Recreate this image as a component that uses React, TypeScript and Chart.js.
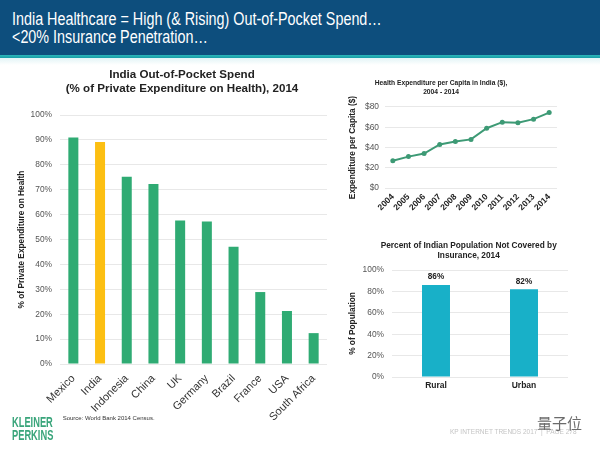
import { useEffect, useRef } from 'react';
import { Chart, registerables } from 'chart.js';

Chart.register(...registerables);

// ---------- data ----------
const countries = ['Mexico', 'India', 'Indonesia', 'China', 'UK', 'Germany', 'Brazil', 'France', 'USA', 'South Africa'];
const outOfPocketPct = [91, 89.2, 75.2, 72.3, 57.6, 57.2, 47.1, 28.9, 21.3, 12.4];
const highlightCountry = 'India';

const years = ['2004', '2005', '2006', '2007', '2008', '2009', '2010', '2011', '2012', '2013', '2014'];
const perCapitaUsd = [27, 31, 34, 43, 46, 48, 59, 65, 64.5, 68, 74.5];

const areas = ['Rural', 'Urban'];
const notCoveredPct = [86, 82];

const leftTitle = ['India Out-of-Pocket Spend', '(% of Private Expenditure on Health), 2014'];
const topRightTitle = ['Health Expenditure per Capita in India ($),', '2004 - 2014'];
const bottomRightTitle = ['Percent of Indian Population Not Covered by', 'Insurance, 2014'];

// ---------- styles ----------
const FONT = "'Liberation Sans', Arial, Helvetica, sans-serif";
const GREEN = '#2fab73';
const YELLOW = '#fcbf12';
const LINE_GREEN = '#3d9a75';
const CYAN = '#18b0c8';
const GRID = '#e8e8e8';
const TICK = '#555555';
const DARK = '#222222';

Chart.defaults.font.family = FONT;

const shiftTitle = {
  id: 'shiftTitle',
  afterLayout(chart: any, _args: any, opts: any) {
    const tb = chart.titleBlock;
    if (tb && opts && opts.dx) {
      tb.left += opts.dx;
      tb.right += opts.dx;
    }
  },
};

const barValueLabels = {
  id: 'barValueLabels',
  afterDatasetsDraw(chart: any, _args: any, opts: any) {
    if (!opts || !opts.display) return;
    const ctx = chart.ctx;
    const meta = chart.getDatasetMeta(0);
    const data = chart.data.datasets[0].data;
    ctx.save();
    ctx.font = `bold ${opts.size}px ${FONT}`;
    ctx.fillStyle = opts.color;
    ctx.textAlign = 'center';
    ctx.textBaseline = 'middle';
    meta.data.forEach((el: any, i: number) => {
      ctx.fillText(`${data[i]}%`, el.x, el.y - opts.offset);
    });
    ctx.restore();
  },
};

function useChart(config: any) {
  const ref = useRef<HTMLCanvasElement | null>(null);
  useEffect(() => {
    if (!ref.current) return;
    const chart = new Chart(ref.current, config);
    return () => chart.destroy();
  }, []);
  return ref;
}

function LeftChart() {
  const ref = useChart({
    type: 'bar',
    data: {
      labels: countries,
      datasets: [
        {
          data: outOfPocketPct,
          backgroundColor: countries.map((c) => (c === highlightCountry ? YELLOW : GREEN)),
          barPercentage: 0.375,
          categoryPercentage: 1,
        },
      ],
    },
    options: {
      animation: false,
      responsive: false,
      maintainAspectRatio: false,
      layout: { padding: { left: 0, right: 18, top: 0, bottom: 0 } },
      plugins: {
        legend: { display: false },
        tooltip: { enabled: false },
        title: {
          display: true,
          text: leftTitle,
          color: DARK,
          font: { size: 11.6, weight: 'bold', lineHeight: 1.2 },
          padding: { top: 8, bottom: 19.2 },
        },
        shiftTitle: { dx: 18.5 },
      },
      scales: {
        x: {
          grid: { display: false, drawTicks: false },
          border: { display: false },
          ticks: { minRotation: 45, maxRotation: 45, autoSkip: false, color: '#333', font: { size: 11 }, padding: 8 },
          afterFit: (s: any) => {
            s.height = 76;
          },
        },
        y: {
          min: 0,
          max: 100,
          border: { display: false },
          grid: { color: GRID, drawTicks: false },
          ticks: { stepSize: 10, color: TICK, font: { size: 8.4 }, padding: 8, callback: (v: any) => `${v}%` },
          title: {
            display: true,
            text: '% of Private Expenditure on Health',
            color: DARK,
            font: { size: 8.3, weight: 'bold', lineHeight: 1.2 },
            padding: { top: 17, bottom: 0 },
          },
          afterFit: (s: any) => {
            s.width = 60;
          },
        },
      },
    },
    plugins: [shiftTitle],
  });
  return <canvas ref={ref} width={345} height={380} style={{ position: 'absolute', left: 0, top: 60, width: 345, height: 380 }} />;
}

function TopRightChart() {
  const ref = useChart({
    type: 'line',
    data: {
      labels: years,
      datasets: [
        {
          data: perCapitaUsd,
          borderColor: LINE_GREEN,
          backgroundColor: LINE_GREEN,
          borderWidth: 2,
          pointRadius: 2.5,
          pointBackgroundColor: LINE_GREEN,
          pointBorderWidth: 0,
          tension: 0,
        },
      ],
    },
    options: {
      animation: false,
      responsive: false,
      maintainAspectRatio: false,
      layout: { padding: { left: 0, right: 43, top: 0, bottom: 0 } },
      plugins: {
        legend: { display: false },
        tooltip: { enabled: false },
        title: {
          display: true,
          text: topRightTitle,
          color: DARK,
          font: { size: 6.7, weight: 'bold', lineHeight: 1.343 },
          padding: { top: 18.5, bottom: 10.5 },
        },
        shiftTitle: { dx: -7.5 },
      },
      scales: {
        x: {
          offset: true,
          grid: { display: false, drawTicks: false },
          border: { display: false },
          ticks: { minRotation: 45, maxRotation: 45, autoSkip: false, color: DARK, font: { size: 8.5, weight: 'bold' }, padding: 4 },
          afterFit: (s: any) => {
            s.height = 32;
          },
        },
        y: {
          min: 0,
          max: 80,
          border: { display: false },
          grid: { color: GRID, drawTicks: false },
          ticks: { stepSize: 20, color: TICK, font: { size: 8.4 }, padding: 6, callback: (v: any) => `$${v}` },
          title: {
            display: true,
            text: 'Expenditure per Capita ($)',
            color: DARK,
            font: { size: 8.3, weight: 'bold', lineHeight: 1.2 },
            padding: { top: 8.2, bottom: 0 },
          },
          afterFit: (s: any) => {
            s.width = 45;
          },
        },
      },
    },
    plugins: [shiftTitle],
  });
  return <canvas ref={ref} width={260} height={160} style={{ position: 'absolute', left: 340, top: 60, width: 260, height: 160 }} />;
}

function BottomRightChart() {
  const ref = useChart({
    type: 'bar',
    data: {
      labels: areas,
      datasets: [
        {
          data: notCoveredPct,
          backgroundColor: CYAN,
          barPercentage: 0.318,
          categoryPercentage: 1,
        },
      ],
    },
    options: {
      animation: false,
      responsive: false,
      maintainAspectRatio: false,
      layout: { padding: { left: 0, right: 32, top: 0, bottom: 0 } },
      plugins: {
        legend: { display: false },
        tooltip: { enabled: false },
        title: {
          display: true,
          text: bottomRightTitle,
          color: DARK,
          font: { size: 8.3, weight: 'bold', lineHeight: 1.205 },
          padding: { top: 16, bottom: 9 },
        },
        shiftTitle: { dx: 14.7 },
        barValueLabels: { display: true, size: 8.2, color: DARK, offset: 8 },
      },
      scales: {
        x: {
          grid: { display: false, drawTicks: false },
          border: { display: false },
          ticks: { color: DARK, font: { size: 8.5, weight: 'bold' }, padding: 4 },
          afterFit: (s: any) => {
            s.height = 23;
          },
        },
        y: {
          min: 0,
          max: 100,
          border: { display: false },
          grid: { color: GRID, drawTicks: false },
          ticks: { stepSize: 20, color: TICK, font: { size: 8.4 }, padding: 8, callback: (v: any) => `${v}%` },
          title: {
            display: true,
            text: '% of Population',
            color: DARK,
            font: { size: 8.3, weight: 'bold', lineHeight: 1.2 },
            padding: { top: 8.2, bottom: 0 },
          },
          afterFit: (s: any) => {
            s.width = 52;
          },
        },
      },
    },
    plugins: [shiftTitle, barValueLabels],
  });
  return <canvas ref={ref} width={260} height={175} style={{ position: 'absolute', left: 340, top: 225, width: 260, height: 175 }} />;
}

export default function App() {
  const headLine = {
    position: 'absolute' as const,
    left: 12,
    whiteSpace: 'nowrap' as const,
    color: '#ffffff',
    fontSize: 17.5,
    lineHeight: '18.7px',
    transform: 'scaleX(0.82)',
    transformOrigin: '0 0',
  };
  const logoLine = {
    position: 'absolute' as const,
    left: 11.5,
    whiteSpace: 'nowrap' as const,
    color: '#3aa57b',
    fontSize: 15,
    fontWeight: 'bold' as const,
    lineHeight: '13.3px',
    transform: 'scaleX(0.62)',
    transformOrigin: '0 0',
  };
  return (
    <div
      style={{
        position: 'absolute',
        left: 0,
        top: 0,
        width: 600,
        height: 450,
        overflow: 'hidden',
        background: '#ffffff',
        fontFamily: FONT,
      }}
    >
      <div style={{ position: 'absolute', left: 0, top: 0, width: 600, height: 55, background: '#0d4e7d' }} />
      <div style={{ position: 'absolute', left: 0, top: 55, width: 600, height: 3, background: 'linear-gradient(#2bb7b9, #179ca6)' }} />
      <div style={{ position: 'absolute', left: 0, top: 58, width: 600, height: 7, background: 'linear-gradient(#e2f4f6, #ffffff)' }} />
      <div style={{ ...headLine, top: 9.5 }}>India Healthcare = High (&amp; Rising) Out-of-Pocket Spend…</div>
      <div style={{ ...headLine, top: 28.2 }}>&lt;20% Insurance Penetration…</div>

      <LeftChart />
      <TopRightChart />
      <BottomRightChart />

      <div style={{ ...logoLine, top: 414.9 }}>KLEINER</div>
      <div style={{ ...logoLine, top: 428.2 }}>PERKINS</div>
      <div style={{ position: 'absolute', left: 62.7, top: 414, fontSize: 6, lineHeight: '8px', color: '#333', whiteSpace: 'nowrap' }}>
        Source: World Bank 2014 Census.
      </div>
      <div style={{ position: 'absolute', left: 450, top: 428, fontSize: 6.5, lineHeight: '8px', color: '#c4c4c4', whiteSpace: 'nowrap' }}>
        KP INTERNET TRENDS 2017 &nbsp;|&nbsp; PAGE 278
      </div>
      <div
        style={{
          position: 'absolute',
          left: 537,
          top: 414,
          fontSize: 15,
          lineHeight: '18px',
          color: '#6b6b6b',
          whiteSpace: 'nowrap',
          fontFamily: "'Noto Sans CJK SC', sans-serif",
        }}
      >
        量子位
      </div>
    </div>
  );
}
